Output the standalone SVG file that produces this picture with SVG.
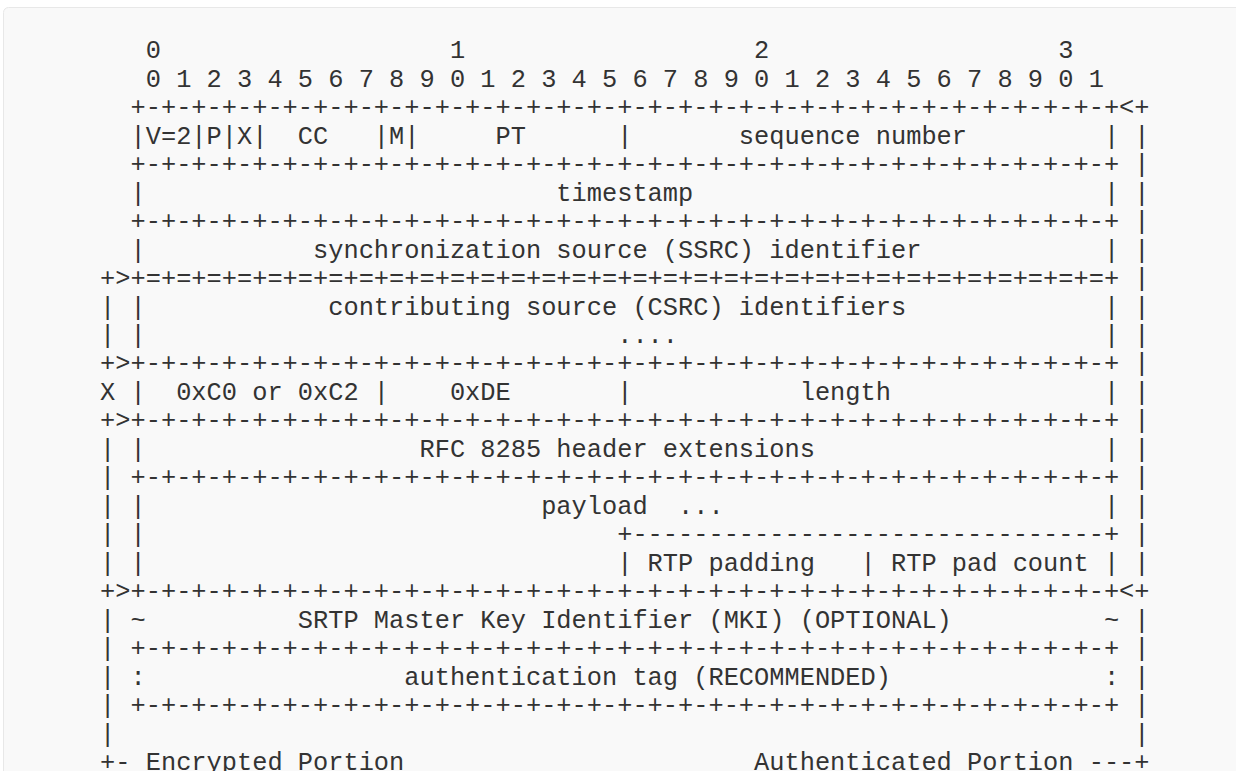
<svg xmlns="http://www.w3.org/2000/svg" width="1236" height="771" viewBox="0 0 1236 771" xml:space="preserve">
<style>
.bg{fill:#f9f9f9;stroke:#e8e8e8;stroke-width:1}
text{font-family:"Liberation Mono","DejaVu Sans Mono",monospace;font-size:25.35px;fill:#333;white-space:pre}
</style>
<rect class="bg" x="3.5" y="7.5" width="1260" height="800" rx="5"/>
<g id="diagram">
<text x="69.7" y="58.3">     0                   1                   2                   3</text>
<text x="69.7" y="86.77">     0 1 2 3 4 5 6 7 8 9 0 1 2 3 4 5 6 7 8 9 0 1 2 3 4 5 6 7 8 9 0 1</text>
<text x="69.7" y="115.24">    +-+-+-+-+-+-+-+-+-+-+-+-+-+-+-+-+-+-+-+-+-+-+-+-+-+-+-+-+-+-+-+-+&lt;+</text>
<text x="69.7" y="143.71">    |V=2|P|X|  CC   |M|     PT      |       sequence number         | |</text>
<text x="69.7" y="172.18">    +-+-+-+-+-+-+-+-+-+-+-+-+-+-+-+-+-+-+-+-+-+-+-+-+-+-+-+-+-+-+-+-+ |</text>
<text x="69.7" y="200.65">    |                           timestamp                           | |</text>
<text x="69.7" y="229.12">    +-+-+-+-+-+-+-+-+-+-+-+-+-+-+-+-+-+-+-+-+-+-+-+-+-+-+-+-+-+-+-+-+ |</text>
<text x="69.7" y="257.59">    |           synchronization source (SSRC) identifier            | |</text>
<text x="69.7" y="286.06">  +&gt;+=+=+=+=+=+=+=+=+=+=+=+=+=+=+=+=+=+=+=+=+=+=+=+=+=+=+=+=+=+=+=+=+ |</text>
<text x="69.7" y="314.53">  | |            contributing source (CSRC) identifiers             | |</text>
<text x="69.7" y="343.0">  | |                               ....                            | |</text>
<text x="69.7" y="371.47">  +&gt;+-+-+-+-+-+-+-+-+-+-+-+-+-+-+-+-+-+-+-+-+-+-+-+-+-+-+-+-+-+-+-+-+ |</text>
<text x="69.7" y="399.94">  X |  0xC0 or 0xC2 |    0xDE       |           length              | |</text>
<text x="69.7" y="428.41">  +&gt;+-+-+-+-+-+-+-+-+-+-+-+-+-+-+-+-+-+-+-+-+-+-+-+-+-+-+-+-+-+-+-+-+ |</text>
<text x="69.7" y="456.88">  | |                  RFC 8285 header extensions                   | |</text>
<text x="69.7" y="485.35">  | +-+-+-+-+-+-+-+-+-+-+-+-+-+-+-+-+-+-+-+-+-+-+-+-+-+-+-+-+-+-+-+-+ |</text>
<text x="69.7" y="513.82">  | |                          payload  ...                         | |</text>
<text x="69.7" y="542.29">  | |                               +-------------------------------+ |</text>
<text x="69.7" y="570.76">  | |                               | RTP padding   | RTP pad count | |</text>
<text x="69.7" y="599.23">  +&gt;+-+-+-+-+-+-+-+-+-+-+-+-+-+-+-+-+-+-+-+-+-+-+-+-+-+-+-+-+-+-+-+-+&lt;+</text>
<text x="69.7" y="627.7">  | ~          SRTP Master Key Identifier (MKI) (OPTIONAL)          ~ |</text>
<text x="69.7" y="656.17">  | +-+-+-+-+-+-+-+-+-+-+-+-+-+-+-+-+-+-+-+-+-+-+-+-+-+-+-+-+-+-+-+-+ |</text>
<text x="69.7" y="684.64">  | :                 authentication tag (RECOMMENDED)              : |</text>
<text x="69.7" y="713.11">  | +-+-+-+-+-+-+-+-+-+-+-+-+-+-+-+-+-+-+-+-+-+-+-+-+-+-+-+-+-+-+-+-+ |</text>
<text x="69.7" y="741.58">  |                                                                   |</text>
<text x="69.7" y="770.05">  +- Encrypted Portion                       Authenticated Portion ---+</text>
</g>
</svg>
